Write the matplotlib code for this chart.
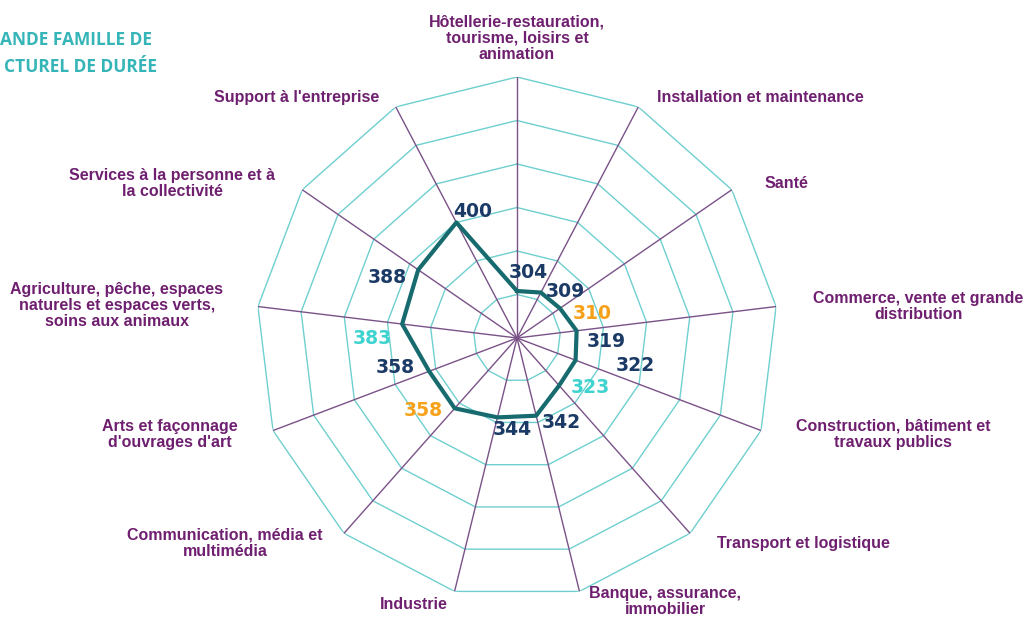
import numpy as np
import matplotlib
matplotlib.use("Agg")
import matplotlib.pyplot as plt

categories = [
    "Hôtellerie-restauration,\ntourisme, loisirs et\nanimation",
    "Installation et maintenance",
    "Santé",
    "Commerce, vente et grande\ndistribution",
    "Construction, bâtiment et\ntravaux publics",
    "Transport et logistique",
    "Banque, assurance,\nimmobilier",
    "Industrie",
    "Communication, média et\nmultimédia",
    "Arts et façonnage\nd'ouvrages d'art",
    "Agriculture, pêche, espaces\nnaturels et espaces verts,\nsoins aux animaux",
    "Services à la personne et à\nla collectivité",
    "Support à l'entreprise",
]
values = [304, 309, 310, 319, 322, 323, 342, 344, 358, 358, 383, 388, 400]
value_colors = ["#1b3a66", "#1b3a66", "#f7a11a", "#1b3a66", "#1b3a66", "#3fd3cf", "#1b3a66",
                "#1b3a66", "#f7a11a", "#1b3a66", "#3fd3cf", "#1b3a66", "#1b3a66"]
rings = [300, 350, 400, 450, 500, 550]
rmin, rmax = 250, 550

# offsets of the value labels and category labels (pixels)
val_off = [(11, 19), (24, 1), (32, -5), (30, -11), (60, -5), (31, -2), (25, -7),
           (15, -12), (-31, -2), (-34, 4), (-30, -14), (-31, -8), (16, 11)]
cat_off = [(0, 39, "center"), (19, 9, "left"), (33, 6, "left"), (142, 0, "center"),
           (132, -4, "center"), (27, -10, "left"), (86, -10, "center"), (-41, -13, "center"),
           (-119, -10, "center"), (-103, -4, "center"), (-141, 1, "center"),
           (-130, 6, "center"), (-99, 9, "center")]

purple = "#6f1f6f"
n = len(categories)
theta = np.arange(n) * 2 * np.pi / n

fig = plt.figure(figsize=(10.24, 6.17), dpi=100)
ax = fig.add_axes([0.25, 0.0292, 0.5098, 0.846], projection="polar")
ax.set_theta_zero_location("N")
ax.set_theta_direction(-1)
ax.set_ylim(rmin, rmax)
ax.grid(False)
ax.set_xticks([])
ax.set_yticks([])
ax.spines["polar"].set_visible(False)
ax.patch.set_alpha(0)

tc = np.append(theta, theta[0])
for r in rings:
    ax.plot(tc, [r] * (n + 1), color="#6fcfcf", lw=1, zorder=1)
for t in theta:
    ax.plot([t, t], [rmin, rmax], color="#7a5288", lw=1, zorder=2)

ax.plot(tc, values + [values[0]], color="#176b6e", lw=3, zorder=3)

for t, v, c, (dx, dy) in zip(theta, values, value_colors, val_off):
    ax.annotate(str(v), xy=(t, v), xytext=(dx, dy), textcoords="offset pixels",
                ha="center", va="center", color=c, fontsize=13.5, fontweight="bold",
                family="DejaVu Sans", zorder=4)

for t, cat, (dx, dy, ha) in zip(theta, categories, cat_off):
    ax.annotate(cat, xy=(t, rmax), xytext=(dx, dy), textcoords="offset pixels",
                ha=ha, va="center", multialignment="center", color=purple,
                fontsize=11.5, fontweight="bold", family="Liberation Sans",
                linespacing=1.1, annotation_clip=False)

# title is cut by the left edge in the source
fig.text(0, 1 - 40 / 617, "ANDE FAMILLE DE", ha="left", va="center",
         color="#35b5b8", fontsize=12.5, fontweight="bold", family="Open Sans")
fig.text(4 / 1024, 1 - 67 / 617, "CTUREL DE DURÉE", ha="left", va="center",
         color="#35b5b8", fontsize=12.5, fontweight="bold", family="Open Sans")

fig.savefig("out.png", dpi=100)
